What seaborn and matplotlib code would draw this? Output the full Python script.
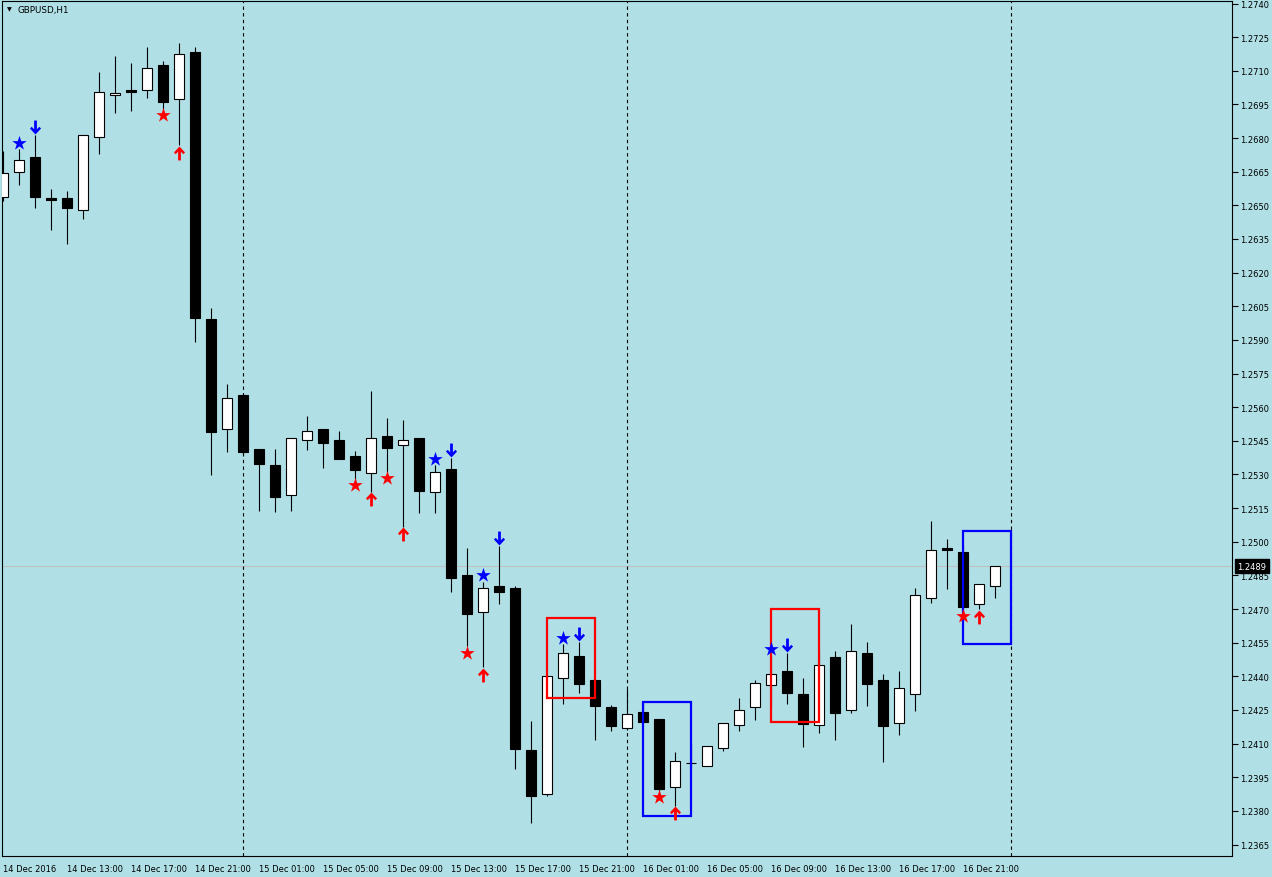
import numpy as np
import pandas as pd
import matplotlib
matplotlib.use('Agg')
import matplotlib.pyplot as plt
from matplotlib.path import Path
from matplotlib.patches import Rectangle
import seaborn as sns

# GBPUSD H1 candles, 14 Dec 2016 09:00 -> 16 Dec 23:00 (bar index = hours since first bar)
opens = [1.26537, 1.26649, 1.26716, 1.26533, 1.26533, 1.26479, 1.26805, 1.26992, 1.27014, 1.27014,
         1.27126, 1.26974, 1.27184, 1.25993, 1.25503, 1.25654, 1.25414, 1.25342, 1.25208, 1.25454,
         1.25503, 1.25454, 1.25382, 1.25306, 1.25472, 1.25431, 1.25463, 1.25222, 1.25324, 1.24852,
         1.24687, 1.24803, 1.24794, 1.24071, 1.23875, 1.24392, 1.24491, 1.24384, 1.24263, 1.24170,
         1.24241, 1.24210, 1.23906, 1.24013, 1.24000, 1.24080, 1.24183, 1.24263, 1.24361, 1.24424,
         1.24321, 1.24183, 1.24484, 1.24250, 1.24504, 1.24384, 1.24192, 1.24321, 1.24749, 1.24972,
         1.24954, 1.24722, 1.24803]
highs = [1.26742, 1.26751, 1.26814, 1.26573, 1.26564, 1.26814, 1.27095, 1.27166, 1.27135, 1.27206,
         1.27144, 1.27224, 1.27206, 1.26042, 1.25703, 1.25663, 1.25414, 1.25414, 1.25463, 1.25561,
         1.25503, 1.25494, 1.25405, 1.25672, 1.25552, 1.25543, 1.25463, 1.25342, 1.25373, 1.24972,
         1.24821, 1.24981, 1.24803, 1.24201, 1.24410, 1.24544, 1.24553, 1.24384, 1.24272, 1.24343,
         1.24285, 1.24210, 1.24062, 1.24103, 1.24089, 1.24192, 1.24303, 1.24384, 1.24491, 1.24504,
         1.24392, 1.24522, 1.24513, 1.24633, 1.24551, 1.24410, 1.24424, 1.24794, 1.25092, 1.25012,
         1.24985, 1.24812, 1.24892]
lows = [1.26519, 1.26591, 1.26488, 1.26390, 1.26328, 1.26439, 1.26729, 1.26912, 1.26921, 1.26979,
        1.26930, 1.26769, 1.25891, 1.25298, 1.25400, 1.25387, 1.25137, 1.25133, 1.25137, 1.25409,
        1.25329, 1.25369, 1.25280, 1.25222, 1.25311, 1.25066, 1.25128, 1.25128, 1.24776, 1.24535,
        1.24441, 1.24722, 1.23987, 1.23746, 1.23866, 1.24277, 1.24326, 1.24116, 1.24156, 1.24161,
        1.24196, 1.23889, 1.23822, 1.23996, 1.24000, 1.24067, 1.24156, 1.24205, 1.24259, 1.24277,
        1.24085, 1.24147, 1.24116, 1.24236, 1.24268, 1.24018, 1.24138, 1.24247, 1.24727, 1.24789,
        1.24700, 1.24700, 1.24749]
closes = [1.26644, 1.26702, 1.26537, 1.26524, 1.26488, 1.26814, 1.27005, 1.27001, 1.27005, 1.27112,
          1.26961, 1.27175, 1.25998, 1.25489, 1.25641, 1.25400, 1.25347, 1.25199, 1.25463, 1.25494,
          1.25440, 1.25369, 1.25320, 1.25463, 1.25418, 1.25454, 1.25226, 1.25311, 1.24838, 1.24678,
          1.24794, 1.24776, 1.24076, 1.23866, 1.24401, 1.24504, 1.24366, 1.24268, 1.24178, 1.24232,
          1.24196, 1.23898, 1.24022, 1.24013, 1.24089, 1.24192, 1.24250, 1.24370, 1.24410, 1.24326,
          1.24187, 1.24450, 1.24236, 1.24513, 1.24366, 1.24178, 1.24350, 1.24763, 1.24963, 1.24963,
          1.24709, 1.24812, 1.24892]

# signal marks (bar indices)
blue_stars = [1, 27, 30, 35, 48]
blue_arrows = [2, 28, 31, 36, 49]
red_stars = [10, 22, 24, 29, 41, 60]
red_arrows = [11, 23, 25, 30, 42, 61]

# pattern boxes: first bar, top, bottom, kind
box_start = [34, 40, 48, 60]
box_top = [1.24660, 1.24285, 1.24700, 1.25048]
box_bottom = [1.24303, 1.23779, 1.24194, 1.24542]
box_kind = ['sell', 'buy', 'sell', 'buy']

day_breaks = [15, 39, 63]
tick_bars = list(range(0, 61, 4))
tick_labels = ['14 Dec 2016', '14 Dec 13:00', '14 Dec 17:00', '14 Dec 21:00',
               '15 Dec 01:00', '15 Dec 05:00', '15 Dec 09:00', '15 Dec 13:00',
               '15 Dec 17:00', '15 Dec 21:00', '16 Dec 01:00', '16 Dec 05:00',
               '16 Dec 09:00', '16 Dec 13:00', '16 Dec 17:00', '16 Dec 21:00']
last_price = 1.2489

bg = '#B0E0E6'
sns.set_style('white', rc={'axes.facecolor': bg, 'figure.facecolor': bg,
                           'axes.edgecolor': 'black'})
plt.rcParams['font.family'] = ['DejaVu Sans']

df = pd.DataFrame({'bar': np.arange(len(opens)), 'open': opens, 'high': highs,
                   'low': lows, 'close': closes})

W, H = 1272, 878
fig = plt.figure(figsize=(W / 100, H / 100), dpi=100)
ax = fig.add_axes([2 / W, 21 / H, 1230 / W, 855 / H])

px = 0.0375 / 841  # price per pixel
ax.set_ylim(1.2740 - 852.5 * px, 1.2740 + 2.5 * px)
ax.set_xlim(-1 / 16, 1229 / 16)

ax.axhline(last_price, color='#C0C0C0', lw=0.8, zorder=0.5)
for b in day_breaks:
    ax.axvline(b, color='black', lw=0.8, ls=(0, (3, 3)), zorder=0.6)

# wicks and bodies
ax.vlines(df['bar'], df['low'], df['high'], color='black', lw=0.8, zorder=2)
up = df['close'] >= df['open']
body = (df['close'] - df['open']).abs().clip(lower=0.00001)
bottom = df[['open', 'close']].min(axis=1)
ax.bar(df['bar'][up], body[up], bottom=bottom[up], width=0.64, color='white',
       edgecolor='black', linewidth=0.8, zorder=3)
ax.bar(df['bar'][~up], body[~up], bottom=bottom[~up], width=0.64, color='black',
       edgecolor='black', linewidth=0.8, zorder=3)

# boxes
for s, t, b, k in zip(box_start, box_top, box_bottom, box_kind):
    c = '#FF0000' if k == 'sell' else '#0000FF'
    ax.add_patch(Rectangle((s, b), 3, t - b, fill=False, edgecolor=c, lw=1.6, zorder=4))

# chunky arrow markers like the terminal's wingdings arrows
down_verts = [(-0.2, 1), (0.2, 1), (0.2, -0.25), (0.55, 0.1), (0.8, -0.15), (0, -1),
              (-0.8, -0.15), (-0.55, 0.1), (-0.2, -0.25), (-0.2, 1)]
down_arrow = Path(down_verts, closed=True)
up_arrow = Path([(x, -y) for x, y in down_verts], closed=True)

hi = np.array(highs)
lo = np.array(lows)
sns.scatterplot(x=blue_stars, y=hi[blue_stars] + 6.5 * px, marker='*', s=120,
                color='#0000FF', linewidth=0, ax=ax, zorder=5, legend=False)
sns.scatterplot(x=red_stars, y=lo[red_stars] - 6.5 * px, marker='*', s=120,
                color='#FF0000', linewidth=0, ax=ax, zorder=5, legend=False)
sns.scatterplot(x=blue_arrows, y=hi[blue_arrows] + 8 * px, marker=down_arrow, s=100,
                color='#0000FF', linewidth=0, ax=ax, zorder=5, legend=False)
sns.scatterplot(x=red_arrows, y=lo[red_arrows] - 7.5 * px, marker=up_arrow, s=100,
                color='#FF0000', linewidth=0, ax=ax, zorder=5, legend=False)

# axes styling
for sp in ax.spines.values():
    sp.set_linewidth(0.8)
    sp.set_color('black')
ax.yaxis.tick_right()
yt = np.round(np.arange(1.2365, 1.27401, 0.0015), 4)
ax.set_yticks(yt)
ax.set_yticklabels([f'{v:.4f}' for v in yt])
ax.tick_params(axis='y', direction='out', length=4, width=0.8, pad=1.5,
               labelsize=6, colors='black')
ax.set_xticks(tick_bars)
ax.set_xticklabels(tick_labels, ha='left')
ax.tick_params(axis='x', direction='out', length=4, width=0.8, pad=1.5,
               labelsize=6, colors='black')
ax.set_xlabel('')
ax.set_ylabel('')

ax.annotate(f'{last_price:.4f}', xy=(1, last_price), xycoords=ax.get_yaxis_transform(),
            xytext=(4, 0), textcoords='offset points', ha='left', va='center',
            color='white', fontsize=6, annotation_clip=False, zorder=10,
            bbox=dict(boxstyle='square,pad=0.3', fc='black', ec='black'))

fig.text(7 / W, 1 - 10 / H, '▼', fontsize=4.5, va='center', ha='left', color='black')
fig.text(17 / W, 1 - 10 / H, 'GBPUSD,H1', fontsize=6.3, va='center', ha='left', color='black')

fig.savefig('out.png', dpi=100, facecolor=bg)
